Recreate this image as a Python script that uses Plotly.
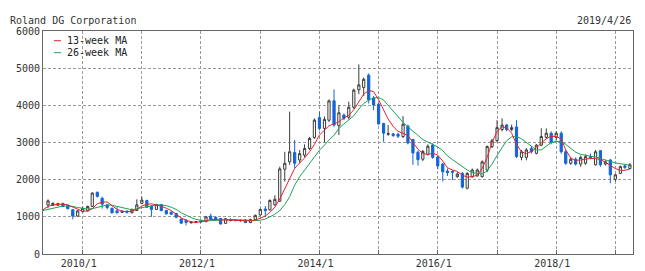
import plotly.graph_objects as go
import pandas as pd

# ---- data (monthly candles, 2009/6 .. 2019/4; moving averages 2009/5 .. 2019/4) ----
ma_months = pd.date_range("2009-05-01", "2019-04-01", freq="MS").strftime("%Y-%m-%d").tolist()
candle_months = ma_months[1:]

opens = [1320, 1310, 1360, 1360, 1310, 1190, 1020,
         1140, 1160, 1280, 1660, 1500, 1320, 1230, 1160, 1120, 1150, 1110, 1170,
         1360, 1440, 1290, 1200, 1330, 1170, 1120, 1090, 940, 910, 840, 850,
         895, 870, 1020, 985, 955, 825, 930, 915, 895, 915, 845, 920,
         1050, 1210, 1190, 1320, 1420, 2280, 2480, 2730, 2530, 2660, 2840, 3130,
         3670, 3380, 3600, 4120, 3450, 3740, 3680, 3950, 4420, 4480, 4810, 4200,
         4030, 3510, 3220, 3230, 3220, 3160, 3440, 3080, 2740, 2550, 2680, 2930,
         2610, 2420, 2230, 2220, 2080, 2170, 1770, 2080, 2100, 2080, 2260, 2890,
         3050, 3350, 3470, 3350, 3420, 2600, 2600, 2840, 2710, 2930, 3140, 3250,
         3140, 3250, 2750, 2440, 2550, 2420, 2440, 2620, 2400, 2780, 2420, 2530,
         2010, 2170, 2370, 2300]
highs = [1470, 1390, 1380, 1380, 1330, 1210, 1180,
         1260, 1300, 1660, 1680, 1540, 1350, 1250, 1260, 1170, 1180, 1220, 1470,
         1540, 1460, 1310, 1350, 1350, 1190, 1150, 1110, 960, 930, 880, 890,
         930, 1020, 1090, 1010, 970, 970, 960, 940, 930, 940, 950, 1060,
         1220, 1290, 1470, 1580, 2350, 2750, 3830, 3070, 2800, 2950, 3150, 3650,
         3830, 3700, 4160, 4430, 4000, 3780, 4100, 4450, 5100, 4750, 4860, 4250,
         4060, 3530, 3470, 3260, 3260, 3710, 3480, 3100, 2780, 2800, 2950, 2980,
         2640, 2450, 2300, 2260, 2200, 2200, 2200, 2300, 2300, 2520, 2920, 3100,
         3600, 3650, 3500, 3480, 3600, 2800, 2850, 2900, 2960, 3380, 3380, 3300,
         3300, 3300, 2800, 2600, 2600, 2650, 2680, 2700, 2800, 2800, 2520, 2560,
         2150, 2380, 2420, 2450]
lows = [1230, 1290, 1290, 1260, 1200, 930, 1000,
        1120, 1140, 1260, 1520, 1220, 1200, 1090, 1090, 1100, 1090, 1090, 1160,
        1340, 1240, 1000, 1190, 1150, 1060, 1060, 960, 810, 770, 820, 830,
        850, 860, 920, 900, 790, 810, 880, 880, 870, 830, 830, 910,
        1030, 1000, 1170, 1300, 1400, 1950, 2400, 2300, 2450, 2600, 2800, 3100,
        3330, 3000, 3550, 3420, 3200, 3600, 3620, 3900, 4300, 4250, 4050, 3870,
        3480, 3020, 3180, 3150, 3120, 3120, 2950, 2400, 2380, 2500, 2650, 2560,
        2280, 1950, 2100, 1990, 2050, 1760, 1740, 2050, 2080, 2060, 2200, 2850,
        3000, 3300, 3300, 3300, 2580, 2520, 2520, 2700, 2680, 2900, 3100, 2950,
        3050, 2700, 2400, 2400, 2380, 2350, 2400, 2550, 2380, 2350, 2380, 1900,
        1950, 2150, 2280, 2280]
closes = [1430, 1360, 1310, 1280, 1220, 1020, 1160,
          1230, 1280, 1640, 1550, 1340, 1250, 1110, 1110, 1150, 1120, 1200, 1320,
          1450, 1260, 1200, 1330, 1170, 1080, 1070, 990, 830, 850, 860, 870,
          860, 1000, 935, 915, 810, 950, 895, 900, 905, 845, 930, 1040,
          1200, 1170, 1440, 1470, 2290, 2440, 2750, 2440, 2700, 2840, 3110, 3600,
          3380, 3620, 4120, 3470, 3800, 3650, 3950, 4410, 4550, 4700, 4150, 4010,
          3500, 3250, 3240, 3190, 3170, 3490, 2990, 2720, 2540, 2760, 2900, 2600,
          2370, 2210, 2190, 2200, 2150, 1800, 2170, 2260, 2260, 2480, 2890, 3050,
          3400, 3470, 3350, 3400, 2620, 2750, 2800, 2750, 2930, 3160, 3250, 3000,
          3250, 2750, 2440, 2550, 2420, 2600, 2620, 2590, 2750, 2400, 2480, 2130,
          2130, 2350, 2330, 2400]
ma13 = [1190, 1280, 1320, 1340, 1345, 1320, 1260, 1200,
        1150, 1160, 1220, 1350, 1400, 1400, 1300, 1200, 1150, 1140, 1150, 1200,
        1290, 1340, 1350, 1320, 1290, 1230, 1170, 1070, 970, 910, 865, 850,
        860, 890, 930, 925, 915, 900, 910, 910, 905, 895, 890, 910,
        960, 1020, 1120, 1260, 1480, 1760, 2050, 2300, 2450, 2580, 2750, 2950,
        3200, 3330, 3450, 3500, 3560, 3660, 3730, 3880, 4100, 4300, 4400, 4370,
        4150, 3880, 3630, 3430, 3300, 3250, 3180, 3000, 2820, 2700, 2680, 2710,
        2660, 2500, 2320, 2260, 2220, 2120, 2070, 2080, 2120, 2300, 2600, 3000,
        3300, 3420, 3400, 3250, 2950, 2750, 2700, 2760, 2850, 2990, 3100, 3170,
        3160, 3100, 2800, 2580, 2520, 2530, 2550, 2570, 2570, 2540, 2470, 2380,
        2300, 2250, 2250, 2290]
ma26 = [1170, 1200, 1240, 1270, 1290, 1290, 1280, 1250,
        1220, 1210, 1220, 1250, 1290, 1320, 1310, 1280, 1240, 1200, 1190, 1220,
        1250, 1280, 1310, 1320, 1320, 1300, 1260, 1200, 1110, 1040, 980, 930,
        900, 890, 900, 910, 920, 930, 930, 925, 915, 905, 900, 900,
        910, 940, 1000, 1070, 1170, 1330, 1540, 1850, 2080, 2260, 2440, 2620,
        2790, 2930, 3070, 3190, 3380, 3500, 3610, 3720, 3900, 4050, 4140, 4200,
        4210, 4140, 4000, 3850, 3680, 3540, 3420, 3300, 3180, 3080, 3010, 2950,
        2880, 2780, 2640, 2540, 2440, 2340, 2260, 2190, 2160, 2150, 2240, 2420,
        2650, 2850, 3050, 3150, 3160, 3100, 3000, 2880, 2800, 2800, 2900, 3000,
        3030, 3020, 2950, 2850, 2740, 2680, 2650, 2630, 2610, 2570, 2530, 2490,
        2450, 2430, 2410, 2390]

years = list(range(2010, 2020))
x_tickvals = [f"{y}-01-01" for y in years]
x_ticktext = [f"{y}/1" if y % 2 == 0 else "" for y in years]
y_tickvals = [0, 1000, 2000, 3000, 4000, 5000, 6000]
y_ticktext = [str(v) for v in y_tickvals]

title_text = "Roland DG Corporation"
date_text = "2019/4/26"
legend_names = ["13-week MA", "26-week MA"]

RED = "#e8232a"
GREEN = "#18a558"
BLUE = "#1464d8"
DARK = "#3c3c3c"
FONT = "DejaVu Sans Mono"

fig = go.Figure()
fig.add_trace(go.Candlestick(
    x=candle_months, open=opens, high=highs, low=lows, close=closes,
    increasing=dict(fillcolor="white", line=dict(color=DARK, width=1)),
    decreasing=dict(fillcolor=BLUE, line=dict(color=BLUE, width=1)),
    whiskerwidth=0, showlegend=False, hoverinfo="skip"))
fig.add_trace(go.Scatter(x=ma_months, y=ma26, mode="lines",
                         line=dict(color=GREEN, width=1), showlegend=False, hoverinfo="skip"))
fig.add_trace(go.Scatter(x=ma_months, y=ma13, mode="lines",
                         line=dict(color=RED, width=1), showlegend=False, hoverinfo="skip"))

L, R, T, B = 43, 12, 31, 17
W, H = 645, 271
pw, ph = W - L - R, H - T - B


def px_x(x):
    return (x - L) / pw


def px_y(y):
    return (H - B - y) / ph


shapes = []
annotations = []
for name, color, yy in [(legend_names[0], RED, 40.7), (legend_names[1], GREEN, 52.7)]:
    shapes.append(dict(type="line", xref="paper", yref="paper",
                       x0=px_x(54), x1=px_x(61), y0=px_y(yy), y1=px_y(yy),
                       line=dict(color=color, width=1)))
    annotations.append(dict(text=name, xref="paper", yref="paper", x=px_x(65), y=px_y(yy),
                            xanchor="left", yanchor="middle", showarrow=False,
                            font=dict(family=FONT, size=10, color="#222")))
annotations.append(dict(text=title_text, xref="paper", yref="paper", x=px_x(8), y=px_y(20),
                        xanchor="left", yanchor="middle", showarrow=False,
                        font=dict(family=FONT, size=10, color="#333")))
annotations.append(dict(text=date_text, xref="paper", yref="paper", x=px_x(633), y=px_y(20),
                        xanchor="right", yanchor="middle", showarrow=False,
                        font=dict(family=FONT, size=10, color="#333")))

fig.update_layout(
    width=W, height=H, margin=dict(l=L, r=R, t=T, b=B, autoexpand=False),
    paper_bgcolor="white", plot_bgcolor="white",
    shapes=shapes, annotations=annotations, showlegend=False,
    boxgap=0.3,
    xaxis=dict(type="date", range=["2009-05-01", "2019-04-20"], automargin=False,
               tickmode="array", tickvals=x_tickvals, ticktext=x_ticktext,
               ticks="inside", ticklen=4, tickcolor="#666",
               showgrid=True, gridcolor="#9a9a9a", griddash="3px,2px", gridwidth=1,
               showline=True, linecolor="#666", linewidth=1, mirror=True,
               zeroline=False, rangeslider=dict(visible=False),
               tickfont=dict(family=FONT, size=10, color="#333"),
               ticklabelshift=-4),
    yaxis=dict(range=[0, 6000], tickmode="array", tickvals=y_tickvals, ticktext=y_ticktext,
               automargin=False,
               ticks="", showgrid=True, gridcolor="#9a9a9a", griddash="3px,2px", gridwidth=1,
               showline=True, linecolor="#666", linewidth=1, mirror=True, zeroline=False,
               tickfont=dict(family=FONT, size=10, color="#333")),
)

fig.write_html("out.html")
